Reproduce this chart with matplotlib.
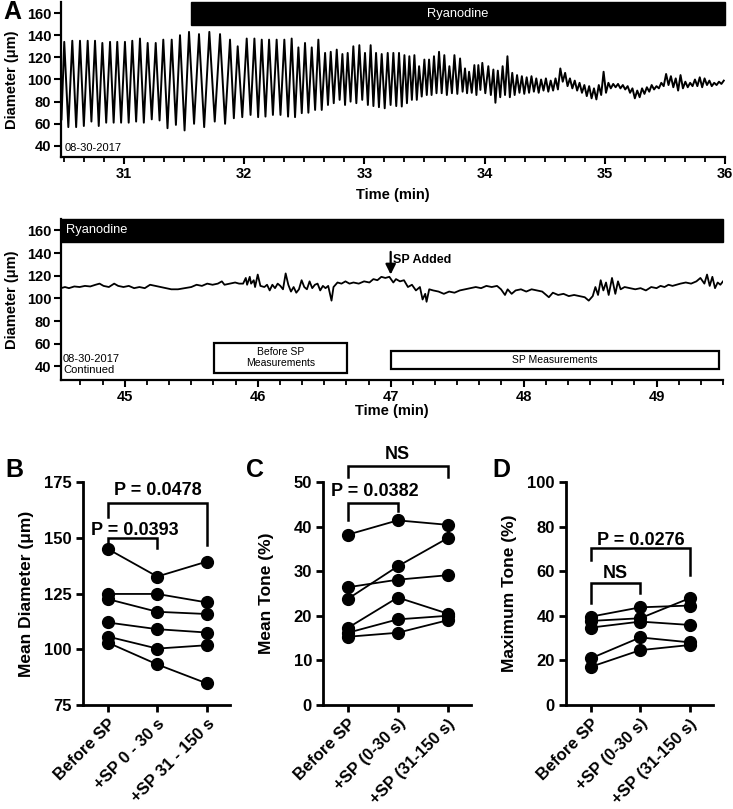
import matplotlib
matplotlib.use('Agg')
import matplotlib.pyplot as plt
from matplotlib.patches import Rectangle
from matplotlib.ticker import MultipleLocator
import numpy as np

plt.rcParams['font.family'] = ['Liberation Sans', 'DejaVu Sans']

# ============================================
# DATA
# ============================================

# Panel A, upper trace: oscillation peaks / troughs, then the damped tail
A1_START = (30.48, 64)
A1_PEAK_T = [30.503, 30.570, 30.634, 30.698, 30.759, 30.820, 30.884, 30.944, 31.008, 31.069,
             31.133, 31.197, 31.264, 31.327, 31.397, 31.466, 31.541, 31.624, 31.710, 31.799,
             31.882, 31.946, 32.021, 32.085, 32.146, 32.207, 32.270, 32.334, 32.395, 32.451,
             32.506, 32.562, 32.617, 32.673, 32.720, 32.770, 32.817, 32.861, 32.908, 32.958,
             33.005, 33.052, 33.097, 33.144, 33.194, 33.241, 33.288, 33.333, 33.374, 33.416,
             33.455, 33.499, 33.538, 33.579, 33.621, 33.665, 33.707, 33.749, 33.796, 33.837,
             33.871, 33.915, 33.948, 33.981, 34.031, 34.073]
A1_PEAK_V = [134, 135, 135, 135, 135, 133, 134, 134, 134, 135,
             137, 133, 133, 136, 136, 140, 143, 141, 143, 141,
             136, 130, 137, 137, 136, 136, 136, 136, 137, 129,
             133, 129, 136, 124, 125, 127, 123, 124, 130, 131,
             124, 131, 124, 123, 124, 124, 124, 122, 121, 122,
             112, 118, 118, 121, 125, 122, 112, 122, 119, 110,
             107, 113, 113, 115, 112, 109]
A1_TROUGH_T = [30.537, 30.602, 30.666, 30.729, 30.790, 30.852, 30.914, 30.976, 31.039, 31.101,
               31.165, 31.231, 31.296, 31.362, 31.432, 31.504, 31.583, 31.667, 31.755, 31.841,
               31.914, 31.984, 32.053, 32.116, 32.177, 32.239, 32.302, 32.365, 32.423, 32.479,
               32.534, 32.590, 32.645, 32.697, 32.745, 32.794, 32.839, 32.885, 32.933, 32.982,
               33.029, 33.075, 33.121, 33.169, 33.218, 33.265, 33.311, 33.354, 33.395, 33.436,
               33.477, 33.519, 33.559, 33.600, 33.643, 33.686, 33.728, 33.773, 33.817, 33.854,
               33.893, 33.932, 33.965, 34.006, 34.052]
A1_TROUGH_V = [57, 57, 58, 62, 58, 61, 61, 61, 61, 62,
               61, 64, 63, 56, 59, 54, 60, 57, 62, 60,
               65, 66, 68, 66, 66.5, 68, 68, 66.5, 66, 69.6,
               70, 72.5, 72.5, 77, 78.6, 81.6, 77, 80, 78.6, 81.6,
               77, 76, 75, 74, 77, 76, 75.6, 78.6, 81.6, 81.6,
               84.6, 86, 86, 87.6, 87.6, 86, 87.6, 87, 89, 87.6,
               88, 86, 90.6, 87.6, 86]
A1_TAIL_T0 = 34.09
A1_TAIL_DT = 0.02
A1_TAIL_V = [79, 108, 84, 112, 86, 121, 84, 106, 86, 104, 88, 103, 87, 102, 88, 103,
             89, 101, 88, 100, 90, 101, 89, 99, 90, 101, 91, 110, 98, 106, 94, 101,
             92, 99, 90, 97, 88, 95, 85, 94, 83, 92, 82, 95, 86, 107, 88, 97,
             92, 96, 93, 96, 92, 95, 91, 94, 88, 92, 83, 90, 84, 92, 87, 93,
             89, 95, 91, 94, 92, 97, 94, 105, 95, 103, 93, 101, 90, 104, 92, 98,
             93, 97, 94, 100, 94, 102, 93, 101, 95, 99, 94, 97, 95, 98, 96, 99]

# Panel A, lower trace
A2_T = [44.52, 44.55, 44.58, 44.62, 44.66, 44.70, 44.74, 44.78, 44.81, 44.84, 44.88, 44.92,
        44.95, 44.99, 45.03, 45.07, 45.11, 45.15, 45.19, 45.23, 45.27, 45.31, 45.35, 45.40,
        45.45, 45.50, 45.54, 45.58, 45.62, 45.66, 45.70, 45.73, 45.75, 45.79, 45.83, 45.86,
        45.89, 45.91, 45.92, 45.94, 45.95, 45.97, 45.98, 46.00, 46.02, 46.05, 46.07, 46.09,
        46.11, 46.13, 46.15, 46.17, 46.19, 46.21, 46.23, 46.25, 46.27, 46.29, 46.31, 46.33,
        46.35, 46.37, 46.39, 46.41, 46.43, 46.45, 46.47, 46.49, 46.51, 46.53, 46.555, 46.57,
        46.60, 46.63, 46.66, 46.69, 46.72, 46.76, 46.80, 46.84, 46.87, 46.90, 46.93, 46.96,
        46.99, 47.02, 47.04, 47.07, 47.10, 47.13, 47.16, 47.19, 47.22, 47.24, 47.26, 47.27,
        47.29, 47.32, 47.36, 47.40, 47.44, 47.48, 47.52, 47.56, 47.60, 47.64, 47.68, 47.72,
        47.76, 47.80, 47.83, 47.86, 47.88, 47.91, 47.94, 47.98, 48.02, 48.06, 48.10, 48.14,
        48.19, 48.22, 48.26, 48.30, 48.34, 48.38, 48.42, 48.46, 48.49, 48.52, 48.54, 48.56,
        48.58, 48.60, 48.62, 48.64, 48.665, 48.69, 48.71, 48.73, 48.76, 48.80, 48.84, 48.88,
        48.92, 48.96, 49.00, 49.03, 49.06, 49.09, 49.12, 49.15, 49.18, 49.22, 49.26, 49.30,
        49.33, 49.36, 49.38, 49.40, 49.42, 49.44, 49.46, 49.48, 49.50]
A2_V = [109, 110, 109, 110.5, 110, 111, 110.5, 112, 113, 111, 110, 113,
        111, 110, 111, 109, 110, 109, 112, 111, 110, 109, 108, 108,
        109, 110, 112, 111, 113, 112, 113, 115, 112, 113, 114, 113,
        113, 118, 112, 119, 113, 116, 110, 121, 111, 110, 112, 107,
        112, 109, 113, 111, 108, 122, 112, 106, 110, 105, 108, 116,
        110, 108, 115, 109, 112, 113, 107, 111, 109, 111, 98, 110,
        114, 113, 115, 113, 114, 113, 115, 114, 117, 116, 119, 118,
        119, 114, 117, 115, 116, 110, 112, 107, 110, 99, 104, 97,
        108, 107, 106, 104, 106, 105, 107, 108, 109, 110, 109, 111,
        110, 111, 108, 103, 108, 104, 107, 108, 106, 108, 107, 106,
        101, 105, 103, 104, 102, 103, 102, 101, 98, 102, 110, 103,
        116, 107, 114, 103, 118, 104, 115, 108, 110, 109, 108, 109,
        107, 110, 109, 111, 110, 112, 111, 112, 113, 114, 113, 115,
        118, 113, 121, 111, 119, 109, 114, 112, 115]

# Panels B-D: one row per vessel, columns = condition
COND_B = ['Before SP', '+SP 0 - 30 s', '+SP 31 - 150 s']
COND_CD = ['Before SP', '+SP (0-30 s)', '+SP (31-150 s)']
MEAN_DIAM = [[145.0, 132.6, 139.3],
             [124.8, 124.8, 121.0],
             [122.5, 116.8, 115.8],
             [112.0, 109.0, 107.5],
             [105.7, 100.3, 101.8],
             [103.0, 93.2, 84.7]]
MEAN_TONE = [[38.2, 41.4, 40.4],
             [26.4, 28.1, 29.1],
             [23.8, 31.1, 37.4],
             [17.3, 24.1, 20.5],
             [16.2, 19.2, 20.0],
             [15.3, 16.2, 19.0]]
MAX_TONE = [[39.6, 43.8, 44.6],
            [37.7, 38.9, 47.9],
            [34.7, 37.4, 35.9],
            [20.9, 30.3, 28.1],
            [17.1, 24.6, 26.9]]

# ============================================
# HELPERS
# ============================================

W, H = 733, 809


def px_axes(fig, left, top, right, bottom):
    return fig.add_axes([left / W, 1 - bottom / H, (right - left) / W, (bottom - top) / H])


def style_axes(ax, lw=1.6):
    for s in ('top', 'right'):
        ax.spines[s].set_visible(False)
    for s in ('left', 'bottom'):
        ax.spines[s].set_linewidth(lw)


def bracket(ax, x0, x1, ytop, y0, y1, text, tx, ty):
    ax.plot([x0, x0, x1, x1], [y0, ytop, ytop, y1], color='black', lw=1.8,
            clip_on=False, solid_joinstyle='miter')
    ax.text(tx, ty, text, ha='center', va='baseline', fontsize=13,
            fontweight='bold', clip_on=False)


def trace_axes(ax, xlim, ylim, major, label_y):
    style_axes(ax, 1.6)
    ax.set_xlim(xlim)
    ax.set_ylim(ylim)
    ax.set_yticks(range(40, 161, 20))
    ax.set_xticks(major)
    ax.xaxis.set_minor_locator(MultipleLocator(1 / 6))
    ax.tick_params(axis='both', which='major', length=5, width=1.5, labelsize=10.5, pad=2)
    ax.tick_params(axis='x', which='minor', length=3.5, width=1.3)
    for lab in ax.get_xticklabels() + ax.get_yticklabels():
        lab.set_fontweight('bold')
    ax.set_ylabel('Diameter (μm)', fontsize=10.5, fontweight='bold')
    ax.yaxis.set_label_coords(-0.063, 0.5)
    ax.set_xlabel('Time (min)', fontsize=10.5, fontweight='bold')
    ax.xaxis.set_label_coords(0.5, label_y)


def paired_panel(ax, data, cats, ylim, yticks, ylabel):
    style_axes(ax, 2.0)
    x = np.arange(len(cats))
    for row in data:
        ax.plot(x, row, color='black', lw=1.3, marker='o', markersize=8.5,
                markerfacecolor='black', markeredgecolor='black', clip_on=False, zorder=3)
    ax.set_xlim(-0.5, 2.47)
    ax.set_ylim(ylim)
    ax.set_yticks(yticks)
    ax.set_xticks(x)
    ax.set_xticklabels(cats, rotation=45, ha='right', rotation_mode='anchor',
                       fontsize=12, fontweight='bold')
    ax.tick_params(axis='both', length=5, width=2.0, labelsize=12, pad=3)
    for lab in ax.get_yticklabels():
        lab.set_fontweight('bold')
    ax.set_ylabel(ylabel, fontsize=12.5, fontweight='bold')
    ax.yaxis.set_label_coords(-0.33, 0.5)


# ============================================
# FIGURE
# ============================================

fig = plt.figure(figsize=(W / 100, H / 100), dpi=100)

# --- A, upper trace
ax1 = px_axes(fig, 61, 2, 725, 157)
t1 = [A1_START[0]] + A1_PEAK_T + A1_TROUGH_T
v1 = [A1_START[1]] + A1_PEAK_V + A1_TROUGH_V
order = np.argsort(t1)
t1 = np.array(t1)[order]
v1 = np.array(v1)[order]
tail_t = A1_TAIL_T0 + A1_TAIL_DT * np.arange(len(A1_TAIL_V))
t1 = np.concatenate([t1, tail_t])
v1 = np.concatenate([v1, A1_TAIL_V])
ax1.plot(t1, v1, color='black', lw=1.4)
trace_axes(ax1, (30.476, 36.0), (30, 170), range(31, 37), -0.2)
ax1.add_patch(Rectangle((31.56, 149), 36.0 - 31.56, 21, facecolor='black',
                        edgecolor='black', clip_on=False, zorder=4))
ax1.text((31.56 + 36.0) / 2, 159.5, 'Ryanodine', color='white', fontsize=9.3,
         ha='center', va='center', zorder=5)
ax1.text(30.51, 35, '08-30-2017', fontsize=8, ha='left', va='baseline')

# --- A, lower trace
ax2 = px_axes(fig, 61, 219, 723, 380)
ax2.plot(A2_T, A2_V, color='black', lw=1.3)
trace_axes(ax2, (44.52, 49.5), (28, 170), range(45, 50), -0.15)
ax2.add_patch(Rectangle((44.52, 150), 49.5 - 44.52, 20, facecolor='black',
                        edgecolor='black', clip_on=False, zorder=4))
ax2.text(44.555, 160, 'Ryanodine', color='white', fontsize=9.3,
         ha='left', va='center', zorder=5)
ax2.text(44.535, 43.5, '08-30-2017', fontsize=8, ha='left', va='baseline')
ax2.text(44.535, 33.8, 'Continued', fontsize=8, ha='left', va='baseline')
ax2.add_patch(Rectangle((45.67, 34), 1.0, 27, facecolor='white',
                        edgecolor='black', lw=1.6, zorder=3))
ax2.text(46.17, 47.5, 'Before SP\nMeasurements', fontsize=7.5, ha='center',
         va='center', linespacing=1.1, zorder=4)
ax2.add_patch(Rectangle((47.0, 38), 2.47, 16, facecolor='white',
                        edgecolor='black', lw=1.6, zorder=3))
ax2.text(48.235, 46, 'SP Measurements', fontsize=7.5, ha='center', va='center', zorder=4)
ax2.annotate('', xy=(47.0, 121), xytext=(47.0, 141),
             arrowprops=dict(arrowstyle='-|>', color='black', lw=1.6,
                             mutation_scale=15, shrinkA=0, shrinkB=0))
ax2.text(47.015, 134, 'SP Added', fontsize=9, fontweight='bold', ha='left', va='center')

# --- B, C, D
axB = px_axes(fig, 83, 482, 230, 705)
paired_panel(axB, MEAN_DIAM, COND_B, (75, 175), range(75, 176, 25), 'Mean Diameter (μm)')
bracket(axB, 0, 2, 165.4, 159.4, 146.7, 'P = 0.0478', 1.02, 169.2)
bracket(axB, 0, 1, 149.7, 146.7, 145.2, 'P = 0.0393', 0.55, 151.2)

axC = px_axes(fig, 323, 482, 471, 705)
paired_panel(axC, MEAN_TONE, COND_CD, (0, 50), range(0, 51, 10), 'Mean Tone (%)')
bracket(axC, 0, 2, 53.5, 51.05, 51.05, 'NS', 1.0, 55.2)
bracket(axC, 0, 1, 45.3, 41.5, 43.4, 'P = 0.0382', 0.53, 46.8)

axD = px_axes(fig, 566, 482, 713, 705)
paired_panel(axD, MAX_TONE, COND_CD, (0, 100), range(0, 101, 20), 'Maximum Tone (%)')
bracket(axD, 0, 2, 70.4, 65.2, 58.4, 'P = 0.0276', 1.02, 71.9)
bracket(axD, 0, 1, 54.6, 45.6, 50.1, 'NS', 0.5, 56.9)

# panel letters
for letter, x, y in [('A', 3, 12), ('B', 5, 470), ('C', 246, 470), ('D', 492, 470)]:
    fig.text(x / W, 1 - y / H, letter, fontsize=18, fontweight='bold', ha='left', va='center')

fig.savefig('out.png', dpi=100, facecolor='white')
